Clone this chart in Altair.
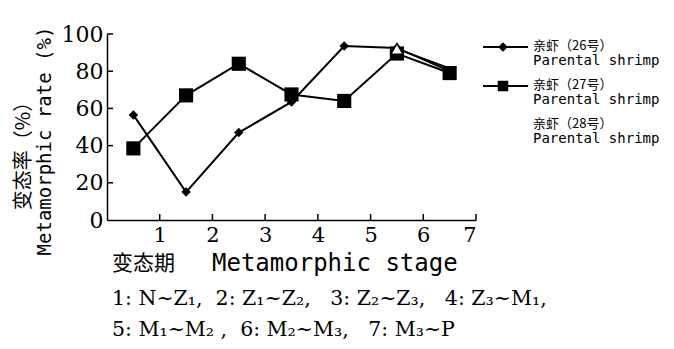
import altair as alt
import pandas as pd

stages = [0.5, 1.5, 2.5, 3.5, 4.5, 5.5, 6.5]
rate_26 = [56.5, 15.0, 47.0, 63.5, 93.5, 92.5, 80.0]
rate_27 = [38.5, 67.0, 84.0, 67.5, 64.0, 89.5, 79.0]
rate_28 = [None, None, None, None, None, 92.0, 81.5]
x_ticks = [1, 2, 3, 4, 5, 6, 7]
y_ticks = [0, 20, 40, 60, 80, 100]

legend_cn = ["亲虾（26号）", "亲虾（27号）", "亲虾（28号）"]
legend_en = ["Parental shrimp", "Parental shrimp", "Parental shrimp"]
y_title = ["变态率（%）", "Metamorphic rate (%)"]
x_title_cn = "变态期"
x_title_en = "Metamorphic stage"
SP = "\u00a0"
note_1 = f"1: N~Z₁,{SP}{SP}2: Z₁~Z₂,{SP}{SP}{SP}3: Z₂~Z₃,{SP}{SP}{SP}4: Z₃~M₁,"
note_2 = f"5: M₁~M₂{SP},{SP}{SP}6: M₂~M₃,{SP}{SP}{SP}7: M₃~P"

rows = []
for name, vals in [("26", rate_26), ("27", rate_27), ("28", rate_28)]:
    for s, v in zip(stages, vals):
        if v is not None:
            rows.append({"stage": s, "rate": v, "series": name})
df = pd.DataFrame(rows)

W, H = 369, 186
SERIF = "DejaVu Serif"
MONO = "DejaVu Sans Mono"
CJK = "Noto Sans CJK SC"

x_axis = alt.Axis(values=x_ticks, title=None, ticks=False, grid=False,
                  labelFont=SERIF, labelFontSize=21, labelColor="black",
                  labelPadding=4, domainColor="black", domainWidth=1.5)
y_axis = alt.Axis(values=y_ticks, title=None, ticks=False, grid=False,
                  labelFont=SERIF, labelFontSize=22, labelColor="black",
                  labelPadding=4, domainColor="black", domainWidth=1.5)
xs = alt.Scale(domain=[0, 7], nice=False, zero=False)
ys = alt.Scale(domain=[0, 100], nice=False)

X = alt.X("stage:Q", scale=xs, axis=x_axis)
Y = alt.Y("rate:Q", scale=ys, axis=y_axis)

lines = alt.Chart(df).mark_line(color="black", strokeWidth=2).encode(
    x=X, y=Y, detail="series:N")

p26 = alt.Chart(df[df.series == "26"]).mark_point(
    shape="diamond", filled=True, color="black", size=90, opacity=1).encode(x=X, y=Y)
p27 = alt.Chart(df[df.series == "27"]).mark_point(
    shape="square", filled=True, color="black", size=200, opacity=1).encode(x=X, y=Y)
p28 = alt.Chart(df[(df.series == "28") & (df.stage == 5.5)]).mark_point(
    shape="triangle-up", filled=True, fill="white", stroke="black", strokeWidth=1.5,
    size=150, opacity=1).encode(x=X, y=Y)

ytick_df = pd.DataFrame({"rate": y_ticks[1:]})
ytick = alt.Chart(ytick_df).mark_rule(color="black", strokeWidth=1.5).encode(
    y=Y, x=alt.value(0), x2=alt.value(6))
xtick_df = pd.DataFrame({"stage": x_ticks})
xtick = alt.Chart(xtick_df).mark_rule(color="black", strokeWidth=1.5).encode(
    x=X, y=alt.value(H), y2=alt.value(H - 6))


def txt(text, x, y, font, size, angle=0, align="left", baseline="middle", weight="normal"):
    kw = dict(text=text, font=font, fontSize=size, color="black", align=align,
              baseline=baseline, fontWeight=weight)
    if angle:
        kw["angle"] = angle
    return alt.Chart(pd.DataFrame({"t": [text]})).mark_text(**kw).encode(
        x=alt.value(x), y=alt.value(y))


ann = [
    txt(y_title[0], -83, 117, CJK, 20, angle=270, align="center"),
    txt(y_title[1], -62, 107, MONO, 19, angle=270, align="center"),
    txt(x_title_cn, 5, 230, CJK, 21),
    txt(x_title_en, 105, 230, MONO, 24),
    txt(note_1, 5, 265, SERIF, 20.5),
    txt(note_2, 5, 296, SERIF, 20.5),
]

legend_layers = []
for i, (cn, en) in enumerate(zip(legend_cn, legend_en)):
    y0 = 13 + i * 39
    legend_layers.append(txt(cn, 426, y0 + 6, CJK, 13, baseline="bottom"))
    legend_layers.append(txt(en, 426, y0 + 7, MONO, 14, baseline="top"))
    if i < 2:
        legend_layers.append(
            alt.Chart(pd.DataFrame({"k": [i]})).mark_rule(color="black", strokeWidth=2).encode(
                x=alt.value(376), x2=alt.value(421), y=alt.value(y0)))
        legend_layers.append(
            alt.Chart(pd.DataFrame({"k": [i]})).mark_point(
                shape="diamond" if i == 0 else "square", filled=True, color="black",
                size=90 if i == 0 else 110, opacity=1).encode(
                x=alt.value(396), y=alt.value(y0)))

chart = alt.layer(lines, ytick, xtick, p27, p26, p28, *ann, *legend_layers).properties(
    width=W, height=H,
    padding={"left": 99, "top": 26, "right": 190, "bottom": 121},
    autosize=alt.AutoSizeParams(type="none"),
    background="white",
).configure_view(stroke=None)

chart.save("out.html", embed_options={"renderer": "svg", "actions": False})
